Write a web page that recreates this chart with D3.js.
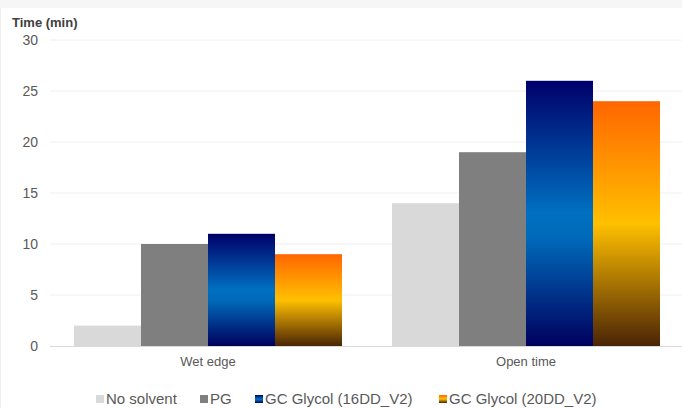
<!DOCTYPE html>
<html><head><meta charset="utf-8">
<script src="https://cdn.jsdelivr.net/npm/d3@7"></script>
<style>html,body{margin:0;padding:0;background:#fff;}svg{display:block;}</style>
</head><body>
<svg id="c" width="682" height="408"></svg>
<script>
const categories = ["Wet edge", "Open time"];
const seriesNames = ["No solvent", "PG", "GC Glycol (16DD_V2)", "GC Glycol (20DD_V2)"];
const noSolvent = [2, 14];
const pg = [10, 19];
const gc16 = [11, 26];
const gc20 = [9, 24];
const yTicks = [0, 5, 10, 15, 20, 25, 30];
const yTitle = "Time (min)";

const series = [noSolvent, pg, gc16, gc20];
const svg = d3.select("#c");
const font = "Arial, 'Liberation Sans', sans-serif";

svg.append("rect").attr("x",0).attr("y",0).attr("width",682).attr("height",8).attr("fill","#f6f6f6");
svg.append("rect").attr("x",0).attr("y",8).attr("width",1).attr("height",400).attr("fill","#f0f0f0");

const defs = svg.append("defs");
const gBlue = defs.append("linearGradient").attr("id","gBlue").attr("x1",0).attr("y1",0).attr("x2",0).attr("y2",1);
[[0,"#00006a"],[0.5,"#0070c0"],[0.6,"#0068b8"],[1,"#00005e"]].forEach(s=>gBlue.append("stop").attr("offset",s[0]).attr("stop-color",s[1]));
const gOrange = defs.append("linearGradient").attr("id","gOrange").attr("x1",0).attr("y1",0).attr("x2",0).attr("y2",1);
[[0,"#ff6600"],[0.5,"#ffc000"],[1,"#4a2406"]].forEach(s=>gOrange.append("stop").attr("offset",s[0]).attr("stop-color",s[1]));
const fills = ["#d9d9d9","#7f7f7f","url(#gBlue)","url(#gOrange)"];

const y = d3.scaleLinear().domain([0,30]).range([346,40]);
const x0 = d3.scaleBand().domain(categories).range([49,685]).padding(0);
const x1 = d3.scaleBand().domain(d3.range(series.length)).range([0,x0.bandwidth()]).paddingInner(0).paddingOuter(0.373);

// gridlines
svg.append("g").selectAll("line").data(yTicks.filter(d=>d>0)).join("line")
  .attr("x1",50).attr("x2",682).attr("y1",d=>y(d)).attr("y2",d=>y(d))
  .attr("stroke","#f0f0f0").attr("stroke-width",1);

// y axis labels
const yAxis = d3.axisLeft(y).tickValues(yTicks).tickSize(0).tickPadding(0);
const ya = svg.append("g").attr("transform","translate(38,0)").call(yAxis);
ya.select(".domain").remove();
ya.selectAll("text").attr("font-family",font).attr("font-size",14).attr("fill","#595959");

// bars
const groups = svg.append("g").selectAll("g").data(categories).join("g")
  .attr("transform",d=>`translate(${x0(d)},0)`);
groups.selectAll("rect").data((c,ci)=>series.map((s,si)=>({si,v:s[ci]}))).join("rect")
  .attr("x",d=>x1(d.si)).attr("width",x1.bandwidth())
  .attr("y",d=>y(d.v)).attr("height",d=>y(0)-y(d.v))
  .attr("fill",d=>fills[d.si]);

// x axis
svg.append("line").attr("x1",50).attr("x2",682).attr("y1",y(0)+0.5).attr("y2",y(0)+0.5).attr("stroke","#d9d9d9");
const xAxis = d3.axisBottom(x0).tickSize(0).tickPadding(0);
const xa = svg.append("g").attr("transform",`translate(0,${y(0)+11})`).call(xAxis);
xa.select(".domain").remove();
xa.selectAll("text").attr("font-family",font).attr("font-size",13).attr("fill","#595959");

// title
svg.append("text").attr("x",12).attr("y",27).text(yTitle)
  .attr("font-family",font).attr("font-size",13).attr("font-weight","bold").attr("fill","#404040");

// legend
const legX = [96,200,255,439];
const leg = svg.append("g").selectAll("g").data(seriesNames).join("g")
  .attr("transform",(d,i)=>`translate(${legX[i]},395)`);
leg.append("rect").attr("x",0).attr("y",0).attr("width",8).attr("height",8).attr("fill",(d,i)=>fills[i]);
leg.append("text").attr("x",10).attr("y",8.5).text(d=>d)
  .attr("font-family",font).attr("font-size",15).attr("fill","#595959");
</script>
</body></html>
